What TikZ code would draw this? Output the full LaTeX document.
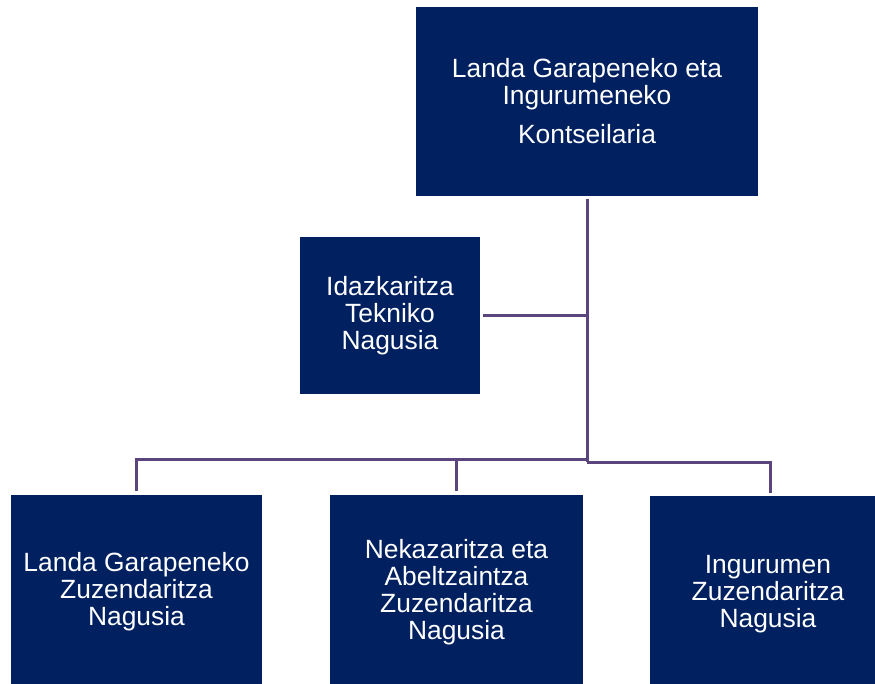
\documentclass[tikz,border=0pt]{standalone}
\usepackage{fontspec}
\setmainfont{Liberation Sans}
\definecolor{boxblue}{HTML}{002060}
\definecolor{linepurple}{HTML}{5A457F}
\begin{document}
\begin{tikzpicture}[x=1pt,y=-1pt,
  orgbox/.style={rectangle, fill=boxblue, draw=none, text=white, align=center, inner sep=0pt,
    font=\fontsize{26.4}{27}\selectfont},
  conn/.style={draw=linepurple, line width=3pt}]
\useasboundingbox (0,0) rectangle (875,684);
\clip (0,0) rectangle (875,684);
\fill[white] (0,0) rectangle (875,684);
\node[orgbox, minimum width=342pt, minimum height=189pt] (top) at (587,101.5)
  {Landa Garapeneko eta\\Ingurumeneko\\[12pt]Kontseilaria};
\node[orgbox, minimum width=180pt, minimum height=156pt] (idz) at (390,315.5)
  {Idazkaritza\\Tekniko\\Nagusia};
\node[orgbox, minimum width=251pt, minimum height=194pt] (b1) at (136.5,592)
  {Landa Garapeneko\\Zuzendaritza\\Nagusia};
\node[orgbox, minimum width=253pt, minimum height=194pt] (b2) at (456.5,592)
  {Nekazaritza eta\\Abeltzaintza\\Zuzendaritza\\Nagusia};
\node[orgbox, minimum width=236pt, minimum height=196pt] (b3) at (768,594)
  {Ingurumen\\Zuzendaritza\\Nagusia};
\coordinate (j) at (587,462);
\coordinate (jl) at (587,459);
\draw[conn, shorten <=3pt] (top.south) -- (j);
\draw[conn, shorten <=3pt] (idz.east) -- (idz.east -| j);
\draw[conn, shorten >=4pt] (jl) -- (jl -| b1.north) -- (b1.north);
\draw[conn, shorten >=4pt] (jl -| b2.north) -- (b2.north);
\draw[conn, shorten >=3pt] (j) -- ([xshift=2pt]j -| b3.north) -- ([xshift=2pt]b3.north);
\end{tikzpicture}
\end{document}
